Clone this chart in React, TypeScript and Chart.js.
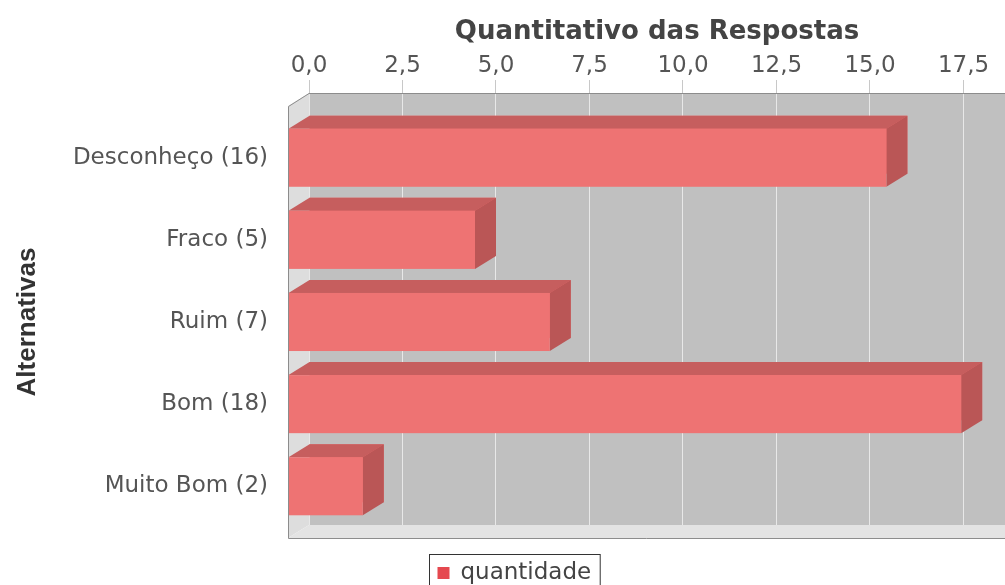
import React, { useEffect, useRef } from 'react';
import { Chart, registerables } from 'chart.js';

Chart.register(...registerables);

// ---- data ----
const categories = ['Desconheço (16)', 'Fraco (5)', 'Ruim (7)', 'Bom (18)', 'Muito Bom (2)'];
const quantities = [16, 5, 7, 18, 2];
const xTickValues = [0, 2.5, 5, 7.5, 10, 12.5, 15, 17.5];
const seriesName = 'quantidade';
const xAxisTitle = 'Quantitativo das Respostas';
const yAxisTitle = 'Alternativas';

// ---- style ----
const FONT = '"DejaVu Sans", sans-serif';
const DX = 21;
const DY = 13;
const FRONT = '#EE7373';
const TOPFACE = '#C65E5E';
const SIDEFACE = '#BA5656';
const SWATCH = '#E5484F';
const W = 1005;
const H = 585;

const depthPlugin = {
  id: 'depth3d',
  beforeDraw(chart: any) {
    const { ctx, chartArea: a, width } = chart;
    ctx.save();
    ctx.fillStyle = '#C0C0C0';
    ctx.fillRect(a.left, a.top, a.right - a.left, a.bottom - a.top);
    // left wall
    ctx.fillStyle = '#DDDDDD';
    ctx.beginPath();
    ctx.moveTo(a.left, a.top);
    ctx.lineTo(a.left, a.bottom);
    ctx.lineTo(a.left - DX, a.bottom + DY);
    ctx.lineTo(a.left - DX, a.top + DY);
    ctx.closePath();
    ctx.fill();
    // floor
    ctx.fillStyle = '#E3E3E3';
    ctx.beginPath();
    ctx.moveTo(a.left, a.bottom);
    ctx.lineTo(width + DX, a.bottom);
    ctx.lineTo(width, a.bottom + DY);
    ctx.lineTo(a.left - DX, a.bottom + DY);
    ctx.closePath();
    ctx.fill();
    ctx.restore();
  },
  afterDatasetsDraw(chart: any) {
    const { ctx } = chart;
    const meta = chart.getDatasetMeta(0);
    ctx.save();
    meta.data.forEach((el: any) => {
      const { x, y, base, height } = el.getProps(['x', 'y', 'base', 'height'], true);
      const L = Math.min(base, x);
      const R = Math.max(base, x);
      const T = y - height / 2;
      const B = y + height / 2;
      // top face
      ctx.fillStyle = TOPFACE;
      ctx.beginPath();
      ctx.moveTo(L, T);
      ctx.lineTo(R, T);
      ctx.lineTo(R - DX, T + DY);
      ctx.lineTo(L - DX, T + DY);
      ctx.closePath();
      ctx.fill();
      // side face
      ctx.fillStyle = SIDEFACE;
      ctx.beginPath();
      ctx.moveTo(R, T);
      ctx.lineTo(R, B);
      ctx.lineTo(R - DX, B + DY);
      ctx.lineTo(R - DX, T + DY);
      ctx.closePath();
      ctx.fill();
      // front face
      ctx.fillStyle = FRONT;
      ctx.fillRect(L - DX, T + DY, R - L, B - T);
    });
    ctx.restore();
  },
  afterDraw(chart: any) {
    const { ctx, chartArea: a, width } = chart;
    ctx.save();
    // outline
    ctx.strokeStyle = '#8C8C8C';
    ctx.lineWidth = 1;
    const fl = Math.round(a.left - DX) + 0.5;
    const fb = Math.round(a.bottom + DY) + 0.5;
    const tp = Math.round(a.top) + 0.5;
    ctx.beginPath();
    ctx.moveTo(width, tp);
    ctx.lineTo(a.left, tp);
    ctx.lineTo(fl, tp + DY);
    ctx.lineTo(fl, fb);
    ctx.lineTo(width, fb);
    ctx.stroke();

    // y axis title
    ctx.save();
    ctx.translate(28, (a.top + a.bottom) / 2 + DY);
    ctx.rotate(-Math.PI / 2);
    ctx.font = 'bold 26px "Liberation Sans", sans-serif';
    ctx.fillStyle = '#333333';
    ctx.textAlign = 'center';
    ctx.textBaseline = 'middle';
    ctx.fillText(yAxisTitle, 0, 0);
    ctx.restore();

    // legend
    const label = chart.data.datasets[0].label;
    ctx.font = '23px ' + FONT;
    const tw = ctx.measureText(label).width;
    const boxW = 8 + 12 + 11 + tw + 9;
    const cx = 514;
    const left = Math.round(cx - boxW / 2) + 0.5;
    const top = 554.5;
    ctx.strokeStyle = '#333333';
    ctx.strokeRect(left, top, boxW, 40);
    ctx.fillStyle = SWATCH;
    ctx.fillRect(left + 8, 567, 12, 12);
    ctx.fillStyle = '#444444';
    ctx.textAlign = 'left';
    ctx.textBaseline = 'middle';
    ctx.fillText(label, left + 31, 573);
    ctx.restore();
  },
};

export default function App() {
  const ref = useRef<HTMLCanvasElement | null>(null);

  useEffect(() => {
    if (!ref.current) return;
    const chart = new Chart(ref.current, {
      type: 'bar',
      data: {
        datasets: [
          {
            label: seriesName,
            data: quantities.map((v, i) => ({ x: v, y: i })),
            backgroundColor: FRONT,
            borderWidth: 0,
            barPercentage: 0.707,
            categoryPercentage: 1,
          },
        ],
      },
      options: {
        indexAxis: 'y',
        animation: false,
        responsive: false,
        devicePixelRatio: 1,
        events: [],
        layout: { padding: { left: 0, right: 0, top: 0, bottom: 60 } },
        plugins: {
          legend: { display: false },
          tooltip: { enabled: false },
        },
        scales: {
          x: {
            type: 'linear',
            position: 'top',
            min: 0,
            max: 18.61,
            offset: false,
            afterFit: (s: any) => {
              s.height = 93;
            },
            afterBuildTicks: (s: any) => {
              s.ticks = xTickValues.map((v) => ({ value: v }));
            },
            ticks: {
              callback: (v: any) => Number(v).toFixed(1).replace('.', ','),
              font: { family: FONT, size: 23 },
              color: '#555555',
              padding: 0,
              maxRotation: 0,
              autoSkip: false,
            },
            grid: {
              color: 'rgba(238,238,238,0.85)',
              lineWidth: 1,
              tickLength: 13,
              tickColor: '#C8C8C8',
              offset: false,
            },
            border: { display: false },
            title: {
              display: true,
              text: xAxisTitle,
              font: { family: FONT, size: 26, weight: 'bold' },
              color: '#444444',
              padding: { top: 17, bottom: 0 },
            },
          },
          y: {
            type: 'linear',
            reverse: true,
            min: -0.63,
            max: 4.63,
            offset: false,
            afterFit: (s: any) => {
              s.width = 309;
            },
            afterBuildTicks: (s: any) => {
              s.ticks = categories.map((_, i) => ({ value: i }));
            },
            ticks: {
              callback: (v: any) => categories[Math.round(Number(v))] ?? '',
              font: { family: FONT, size: 23 },
              color: '#555555',
              padding: 41,
              labelOffset: DY,
              autoSkip: false,
            },
            grid: { display: false, drawTicks: false, offset: false },
            border: { display: false },
          },
        },
      },
      plugins: [depthPlugin],
    } as any);
    return () => chart.destroy();
  }, []);

  return (
    <div style={{ position: 'fixed', left: 0, top: 0, width: W, height: H, overflow: 'hidden', background: '#fff' }}>
      <canvas ref={ref} width={W} height={H} style={{ display: 'block' }} />
    </div>
  );
}
